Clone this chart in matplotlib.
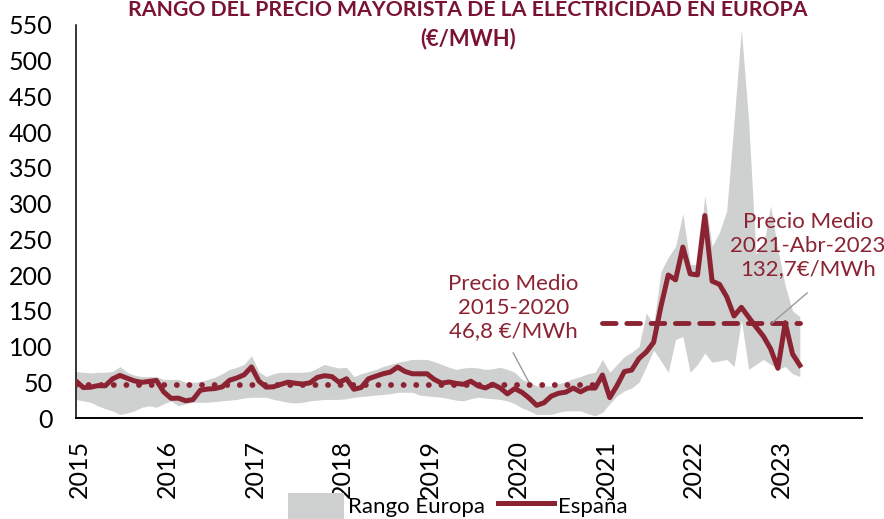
import numpy as np
import matplotlib
matplotlib.use("Agg")
import matplotlib.pyplot as plt
from matplotlib.lines import Line2D
from matplotlib.patches import Patch

# ---------------- data ----------------
years = ["2015", "2016", "2017", "2018", "2019", "2020", "2021", "2022", "2023"]

espana = [
    51.6, 42.6, 43.1, 45.3, 45.1, 54.7, 59.6, 55.6, 51.9, 49.9, 51.2, 52.6,
    36.5, 27.5, 27.8, 24.1, 25.8, 38.9, 40.5, 41.2, 43.6, 52.8, 56.1, 60.5,
    71.5, 51.7, 43.2, 43.7, 47.1, 50.2, 48.6, 47.5, 49.2, 56.8, 59.2, 57.9,
    49.9, 54.9, 40.2, 42.7, 54.9, 58.5, 61.9, 64.3, 71.3, 65.1, 61.9, 61.8,
    61.9, 54.0, 48.8, 50.4, 48.4, 47.2, 51.5, 44.9, 42.1, 47.2, 42.2, 33.8,
    41.1, 35.9, 27.7, 17.7, 21.3, 30.6, 34.6, 36.2, 41.9, 36.6, 41.9, 41.9,
    60.2, 28.5, 45.4, 65.0, 67.1, 83.3, 92.4, 105.9, 156.1, 200.1, 193.4, 239.2,
    201.7, 200.2, 283.3, 191.5, 187.1, 169.6, 142.7, 154.9, 141.1, 127.4, 114.6, 96.9,
    69.6, 133.4, 89.6, 73.7,
]

rango_max = [
    65, 64, 63, 64, 64, 65, 72, 64, 60, 58, 58, 58,
    54, 54, 54, 50, 50, 51, 54, 57, 62, 68, 71, 75,
    87, 65, 58, 62, 64, 64, 64, 64, 65, 70, 75, 72,
    70, 71, 58, 62, 65, 68, 72, 75, 78, 80, 82, 82,
    82, 79, 75, 71, 68, 70, 71, 70, 68, 69, 71, 68,
    64, 54, 50, 45, 45, 45, 48, 51, 55, 58, 62, 64,
    82, 64, 75, 86, 92, 100, 147, 130, 205, 225, 240, 286,
    215, 215, 311, 240, 260, 290, 415, 544, 415, 230, 240, 297,
    235, 185, 150, 142,
]

rango_min = [
    26, 24, 22, 17, 13, 10, 5, 7, 10, 15, 17, 15,
    20, 24, 17, 20, 22, 22, 22, 23, 24, 25, 26, 28,
    29, 29, 29, 26, 24, 22, 21, 22, 24, 25, 26, 26,
    26, 27, 29, 30, 31, 32, 33, 34, 36, 36, 36, 32,
    31, 30, 29, 27, 25, 24, 27, 29, 28, 27, 26, 24,
    20, 14, 10, 5, 5, 5, 8, 10, 10, 10, 6, 3,
    8, 20, 31, 38, 42, 50, 72, 95, 80, 64, 110, 114,
    64, 75, 91, 78, 80, 82, 72, 137, 68, 75, 82, 75,
    68, 72, 62, 58,
]

media_2015_2020 = 46.8
media_2021_2023 = 132.7
meses_2015_2020 = 72

etiqueta_1 = "Precio Medio\n2015-2020\n46,8 €/MWh"
etiqueta_2 = "Precio Medio\n2021-Abr-2023\n132,7€/MWh"
titulo_1 = "RANGO DEL PRECIO MAYORISTA DE LA ELECTRICIDAD EN EUROPA"
titulo_2 = "(€/MWH)"

# ---------------- style ----------------
plt.rcParams["font.family"] = ["Lato", "DejaVu Sans"]
RED = "#8B2332"
TITLE = "#7A1232"
GREY = "#CFD0D0"

W, H = 884, 519
fig = plt.figure(figsize=(W / 100, H / 100), dpi=100)
ax = fig.add_axes([76 / W, (H - 418) / H, 786 / W, 393 / H])

x = np.arange(len(espana))
ax.fill_between(x, rango_min, rango_max, color=GREY, lw=0, zorder=1)

xh = x[:meses_2015_2020]
ax.plot(xh, [media_2015_2020] * len(xh), color=RED, lw=4.2,
        linestyle=(0, (0.01, 2.15)), dash_capstyle="round", zorder=3)
xr = x[meses_2015_2020:]
ax.plot(xr, [media_2021_2023] * len(xr), color=RED, lw=3.5,
        linestyle=(0, (2.8, 2.2)), dash_capstyle="round", zorder=3)

ax.plot(x, espana, color=RED, lw=3.6, solid_joinstyle="round", zorder=4)

ax.set_xlim(0, 107.5)
ax.set_ylim(0, 550)
ax.set_yticks(range(0, 551, 50))
ax.set_xticks([12 * k + 0.5 for k in range(len(years))])
ax.set_xticklabels(years, rotation=90)
ax.tick_params(axis="y", length=0, pad=17, labelsize=18)
ax.tick_params(axis="x", length=0, pad=16, labelsize=18)
for s in ["top", "right"]:
    ax.spines[s].set_visible(False)
ax.spines["left"].set_linewidth(1.1)
ax.spines["bottom"].set_linewidth(1.4)
ax.spines["left"].set_color("black")
ax.spines["bottom"].set_color("black")

# annotations
ax.text(59.8, 154, etiqueta_1, color=RED, fontsize=16, ha="center",
        va="center", linespacing=1.22, zorder=5)
ax.plot([59.8, 62.0], [91, 49], color="#9A9A9A", lw=1.0, zorder=2)
ax.text(100.1, 241, etiqueta_2, color=RED, fontsize=16, ha="center",
        va="center", linespacing=1.22, zorder=5, clip_on=False)
ax.plot([100.0, 95.2], [175, 133], color="#9A9A9A", lw=1.0, zorder=5)

# title
fig.text(468 / W, 1 - 16 / H, titulo_1, color=TITLE, fontsize=15.3,
         fontweight="bold", ha="center", va="baseline")
fig.text(468 / W, 1 - 45 / H, titulo_2, color=TITLE, fontsize=15.8,
         fontweight="bold", ha="center", va="baseline")

# legend
handles = [Patch(facecolor=GREY, edgecolor="none", label="Rango Europa"),
           Line2D([0], [0], color=RED, lw=3.6, label="España")]
fig.legend(handles=handles, loc="center", bbox_to_anchor=(458 / W, 1 - 506 / H),
           ncol=2, frameon=False, fontsize=16, handlelength=2.5,
           handleheight=1.4, handletextpad=0.2, columnspacing=0.6)

fig.savefig("out.png", dpi=100)
